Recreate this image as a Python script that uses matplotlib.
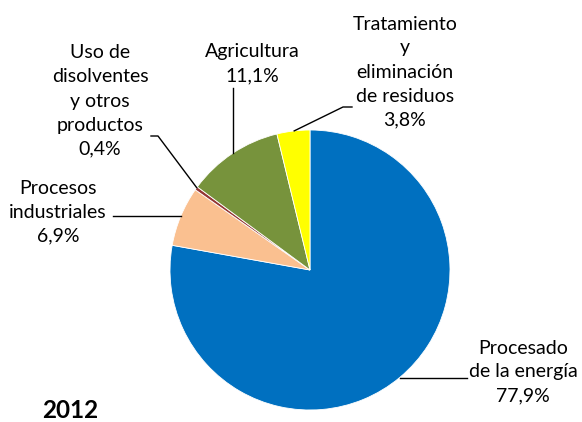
import numpy as np
import matplotlib
matplotlib.use("Agg")
import matplotlib.pyplot as plt
from matplotlib.lines import Line2D

# datos (% de emisiones, 2012)
sectores = ["Procesado\nde la energía", "Procesos\nindustriales",
            "Uso de\ndisolventes\ny otros\nproductos", "Agricultura",
            "Tratamiento\ny\neliminación\nde residuos"]
valores = [77.9, 6.9, 0.4, 11.1, 3.8]
colores = ["#0070C0", "#FAC090", "#943634", "#77933C", "#FFFF00"]
anio = "2012"

W, H = 582, 422
plt.rcParams['font.family'] = ['Lato', 'DejaVu Sans']

fig = plt.figure(figsize=(W / 100, H / 100), dpi=100)

def px(x, y):
    # pixel (arriba-izquierda) -> fraccion de figura
    return x / W, 1 - y / H

cx, cy, r = 310, 270, 140
ax = fig.add_axes([(cx - r) / W, (H - cy - r) / H, 2 * r / W, 2 * r / H])
ax.pie(valores, colors=colores, startangle=90, counterclock=False,
       wedgeprops=dict(linewidth=0.6, edgecolor="white"))
ax.set_xlim(-1, 1)
ax.set_ylim(-1, 1)
ax.set_aspect("equal")
ax.axis("off")

# posicion de etiquetas y codos de las lineas guia (pixeles)
texto_pos = [(523, 372), (58, 212), (100, 101), (252, 64), (405, 72)]
codos = [[(467, None)], [(113, None)], [(158, 136), (151, 136)],
         [(None, 88)], [(343, 107), (352, 107)]]

acum = np.cumsum([0] + valores[:-1])
fs = 14
for i, (nombre, v) in enumerate(zip(sectores, valores)):
    mid = 90 - 3.6 * (acum[i] + v / 2)
    a = np.deg2rad(mid)
    # punto en el borde del sector, en pixeles
    x0 = cx + r * np.cos(a)
    y0 = cy - r * np.sin(a)
    xs, ys = [x0], [y0]
    for (xc, yc) in codos[i]:
        xs.append(xs[-1] if xc is None else xc)
        ys.append(ys[-1] if yc is None else yc)
    fx = [x / W for x in xs]
    fy = [1 - y / H for y in ys]
    fig.add_artist(Line2D(fx, fy, color="black", lw=1.0,
                          transform=fig.transFigure))
    etiqueta = nombre + "\n" + ("%.1f%%" % v).replace(".", ",")
    tx, ty = px(*texto_pos[i])
    fig.text(tx, ty, etiqueta, ha="center", va="center", fontsize=fs,
             linespacing=1.5, color="black")

fig.text(*px(70, 410), anio, ha="center", va="center", fontsize=17.5,
         fontweight="bold")

fig.savefig("out.png", dpi=100)
